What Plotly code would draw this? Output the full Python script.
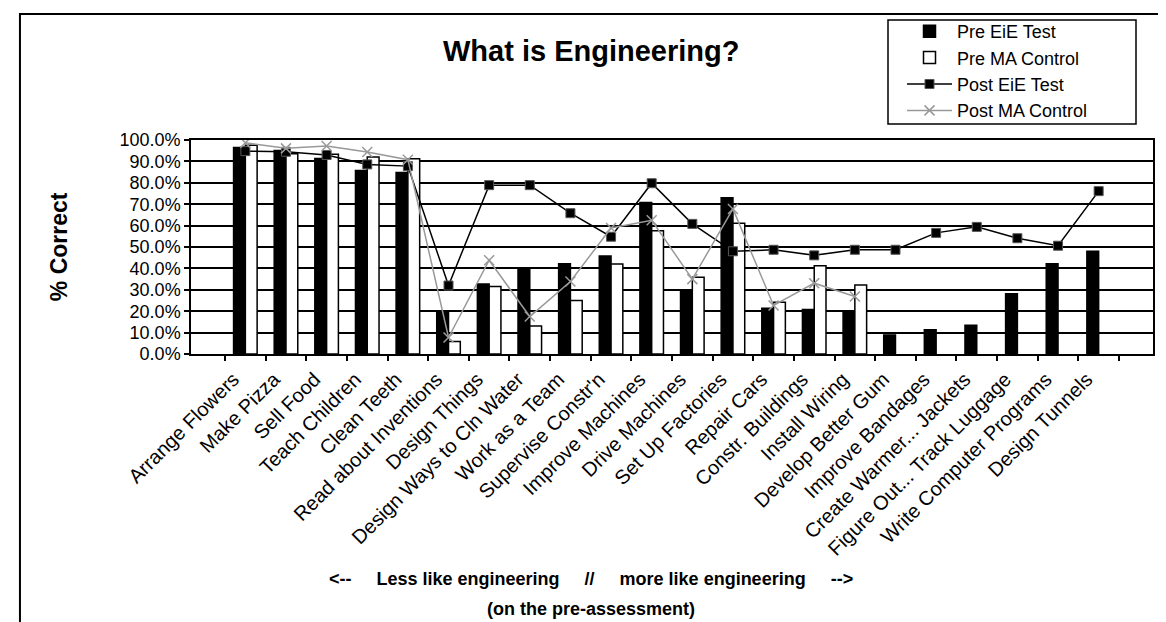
import plotly.graph_objects as go

categories = [
    "Arrange Flowers", "Make Pizza", "Sell Food", "Teach Children", "Clean Teeth",
    "Read about Inventions", "Design Things", "Design Ways to Cln Water", "Work as a Team",
    "Supervise Constr'n", "Improve Machines", "Drive Machines", "Set Up Factories",
    "Repair Cars", "Constr. Buildings", "Install Wiring", "Develop Better Gum",
    "Improve Bandages", "Create Warmer... Jackets", "Figure Out... Track Luggage",
    "Write Computer Programs", "Design Tunnels",
]
pre_eie = [96.5, 95.1, 91.4, 85.8, 84.8, 19.5, 32.7, 39.4, 42.2, 45.8, 70.8, 29.7,
           73.0, 21.4, 20.8, 20.2, 8.9, 11.3, 13.4, 28.1, 42.2, 48.0]
pre_ma = [97.5, 93.6, 93.3, 92.0, 91.2, 5.8, 31.6, 13.1, 25.0, 42.0, 57.6, 35.9,
          61.1, 24.2, 41.2, 32.3, None, None, None, None, None, None]
post_eie = [94.8, 94.5, 93.0, 88.6, 87.8, 32.0, 78.9, 78.9, 65.8, 54.8, 79.8, 60.8,
            48.0, 48.7, 46.1, 48.7, 48.7, 56.6, 59.4, 54.1, 50.6, 76.1]
post_ma = [98.7, 96.1, 97.2, 94.4, 90.8, 7.7, 43.8, 17.5, 33.9, 58.9, 62.5, 35.0,
           67.8, 22.7, 33.1, 26.9, None, None, None, None, None, None]
y_ticks = [0, 10, 20, 30, 40, 50, 60, 70, 80, 90, 100]
y_tick_labels = ["0.0%", "10.0%", "20.0%", "30.0%", "40.0%", "50.0%",
                 "60.0%", "70.0%", "80.0%", "90.0%", "100.0%"]

FONT = "Liberation Sans, Arial, sans-serif"

fig = go.Figure()
fig.add_bar(x=categories, y=pre_eie, name="Pre EiE Test",
            marker=dict(color="black", line=dict(color="black", width=1.5)))
fig.add_bar(x=categories, y=pre_ma, name="Pre MA Control",
            marker=dict(color="white", line=dict(color="black", width=1.5)))
fig.add_scatter(x=categories, y=post_eie, name="Post EiE Test", mode="lines+markers",
                line=dict(color="black", width=1.5),
                marker=dict(symbol="square", size=9, color="black",
                            line=dict(color="#555555", width=1)))
fig.add_scatter(x=categories, y=post_ma, name="Post MA Control", mode="lines+markers",
                line=dict(color="#999999", width=1.5), connectgaps=False,
                marker=dict(symbol="x-thin", size=10, color="#999999",
                            line=dict(color="#999999", width=1.5)))

fig.update_layout(
    width=1166, height=622,
    margin=dict(l=183, r=21, t=132, b=276, autoexpand=False),
    paper_bgcolor="white", plot_bgcolor="white",
    font=dict(family=FONT, color="black"),
    barmode="group", bargap=0.42, bargroupgap=0,
    showlegend=True,
    legend=dict(xref="container", yref="container",
                x=894 / 1166, y=1 - 5 / 622, xanchor="left", yanchor="top",
                bgcolor="rgba(0,0,0,0)", borderwidth=0, itemwidth=45,
                font=dict(size=18, family=FONT), tracegroupgap=0),
)
fig.update_yaxes(range=[0, 100], tickmode="array", tickvals=y_ticks, ticktext=y_tick_labels,
                 showgrid=True, gridcolor="black", gridwidth=1.5,
                 showline=True, linecolor="black", linewidth=1.5, mirror=True,
                 ticks="outside", ticklen=5, tickcolor="black", tickwidth=1.5,
                 tickfont=dict(size=18), zeroline=False, automargin=False)
fig.update_xaxes(type="category", tickangle=-45, tickson="boundaries",
                 ticks="outside", ticklen=5, tickcolor="black", tickwidth=1.5,
                 showline=True, linecolor="black", linewidth=1.5, mirror=True,
                 showgrid=False, tickfont=dict(size=20), automargin=False,
                 ticklabelshift=-12, ticklabelstandoff=4)

# outer chart frame
fig.add_shape(type="rect", xref="paper", yref="paper",
              x0=-0.1778, x1=1.0166, y0=-2.0, y1=1.589,
              line=dict(color="black", width=2), fillcolor="rgba(0,0,0,0)", layer="below")
# legend frame
fig.add_shape(type="rect", xref="paper", yref="paper",
              x0=(880 - 183) / 962, x1=(1128 - 183) / 962,
              y0=(346 - 116) / 214, y1=(346 - 12) / 214,
              line=dict(color="black", width=1.5), fillcolor="white", layer="below")

nb = "\u00a0" * 5
fig.add_annotation(text="<b>What is Engineering?</b>", xref="paper", yref="paper",
                   x=0.4158, y=1.418, xanchor="center", yanchor="middle", showarrow=False,
                   font=dict(size=29, family=FONT))
fig.add_annotation(text="<b>% Correct</b>", xref="paper", yref="paper",
                   x=-0.137, y=0.5, xanchor="center", yanchor="middle", showarrow=False,
                   textangle=-90, font=dict(size=23, family=FONT))
fig.add_annotation(text="<b>&lt;--" + nb + "Less like engineering" + nb + "//" + nb +
                        "more like engineering" + nb + "--&gt;</b>",
                   xref="paper", yref="paper", x=0.4158, y=-1.051,
                   xanchor="center", yanchor="middle", showarrow=False,
                   font=dict(size=18, family=FONT))
fig.add_annotation(text="<b>(on the pre-assessment)</b>", xref="paper", yref="paper",
                   x=0.4158, y=-1.192, xanchor="center", yanchor="middle", showarrow=False,
                   font=dict(size=18, family=FONT))

fig.write_html("out.html")
